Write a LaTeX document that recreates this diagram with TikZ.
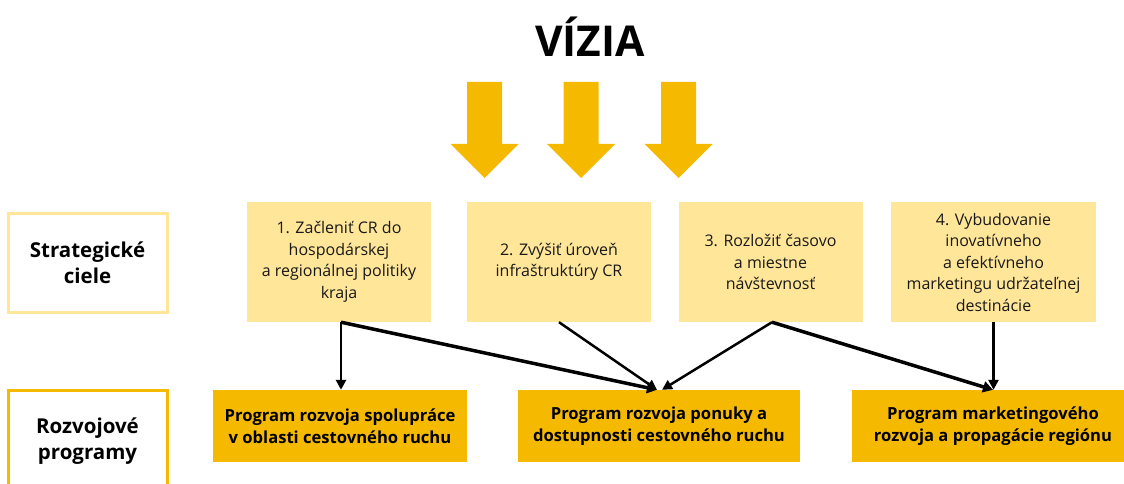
\documentclass[tikz,border=0pt]{standalone}
\usepackage{fontspec}
\setmainfont{Open Sans}
\usetikzlibrary{arrows.meta}
\definecolor{gold}{HTML}{F5BA00}
\definecolor{lightgold}{HTML}{FFE699}
\tikzset{
  goalbox/.style={fill=lightgold, minimum height=120pt, align=center, inner sep=0pt,
    font=\fontsize{16}{21.5}\selectfont, text=black!90},
  progbox/.style={fill=gold, minimum height=72pt, align=center, inner sep=0pt,
    font=\fontsize{16.6}{21.5}\selectfont\bfseries},
  headtext/.style={align=center, font=\fontsize{20.5}{26}\selectfont\bfseries},
  conn/.style={line width=2.5pt, -{Triangle[length=10pt,width=10pt]}},
  connthick/.style={line width=3.5pt, -{Triangle[length=10pt,width=11pt]}},
  bigarrow/.style={fill=gold, draw=none}
}
\begin{document}
\begin{tikzpicture}[x=1pt,y=-1pt]
\useasboundingbox (0,0) rectangle (1124,484);
\clip (0,0) rectangle (1124,484);

% title
\node[font=\fontsize{42.5}{42.5}\selectfont\bfseries] (vizia) at (590,37) {VÍZIA};

% big arrows
\foreach \cx in {484.5,581,678.5}{
  \fill[bigarrow] (\cx-17.5,82) -- (\cx+17.5,82) -- (\cx+17.5,144) -- (\cx+34,144)
    -- (\cx,178) -- (\cx-34,144) -- (\cx-17.5,144) -- cycle;
}

% row headings
\draw[lightgold, line width=3pt] (8,213) rectangle (167,312);
\node[headtext] (hstrat) at (87.5,263) {Strategické\\ciele};
\draw[gold, line width=3pt] (8,390) rectangle (167,530);
\node[headtext] (hprog) at (87.5,441) {Rozvojové\\programy};

% strategic goals
\node[goalbox, minimum width=184pt] (g1) at (339,262) {1. Začleniť CR do\\hospodárskej\\a regionálnej politiky\\kraja};
\node[goalbox, minimum width=184pt] (g2) at (559,262) {2. Zvýšiť úroveň\\infraštruktúry CR};
\node[goalbox, minimum width=184pt] (g3) at (770.5,262) {3. Rozložiť časovo\\a miestne\\návštevnosť};
\node[goalbox, minimum width=205pt] (g4) at (993.5,262) {4. Vybudovanie\\inovatívneho\\a efektívneho\\marketingu udržateľnej\\destinácie};

% programmes
\node[progbox, minimum width=254pt] (p1) at (340,426) {Program rozvoja spolupráce\\v oblasti cestovného ruchu};
\node[progbox, minimum width=282pt] (p2) at (659,426) {Program rozvoja ponuky a\\dostupnosti cestovného ruchu};
\node[progbox, minimum width=282pt] (p3) at (993,426) {Program marketingového\\rozvoja a propagácie regiónu};

% connectors
\coordinate (s1) at ([xshift=2pt]g1.south);
\coordinate (s3) at ([xshift=1.5pt]g3.south);
\draw[conn] (s1) -- (s1 |- p1.north);
\draw[connthick] (s1) -- ([xshift=-2pt]p2.north);
\draw[conn] (g2.south) -- ([xshift=-2pt]p2.north);
\draw[conn] (s3) -- ([xshift=3pt]p2.north);
\draw[connthick] (s3) -- (p3.north);
\draw[conn] (g4.south) -- (g4.south |- p3.north);
\end{tikzpicture}
\end{document}
